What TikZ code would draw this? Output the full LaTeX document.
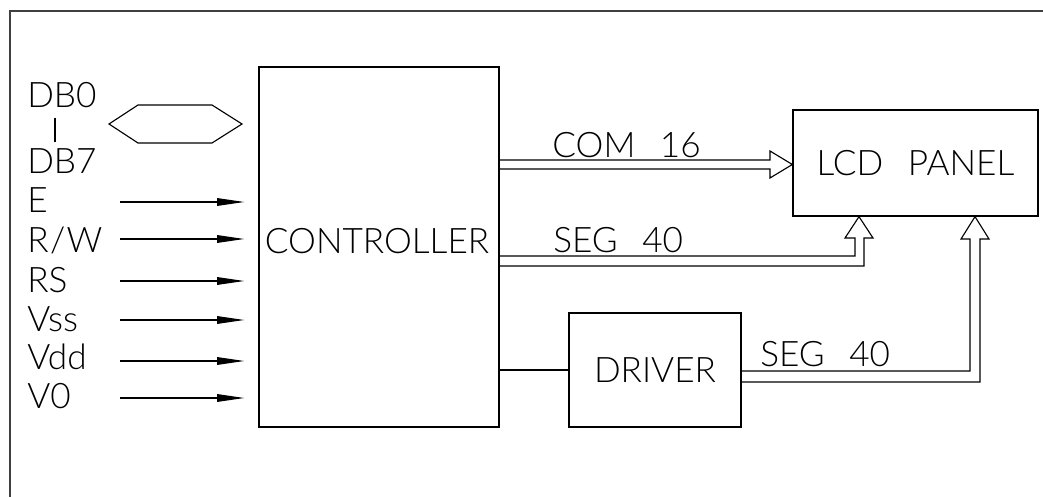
\documentclass[tikz,border=0pt]{standalone}
\usepackage{fontspec}
\setmainfont{Lato Light}
\usepackage{tikz}
\usetikzlibrary{arrows.meta}
\usepackage{xcolor}

\tikzset{
  blk/.style={draw, line width=0.9pt, inner sep=0pt, font=\fontsize{25}{28}\selectfont},
  lbl/.style={inner sep=0pt, font=\fontsize{25}{28}\selectfont},
  sig/.style={line width=0.8pt, -{Triangle[length=0.68cm, width=0.19cm]}, shorten >=0.35cm},
  bus/.style={line width=0.8pt, line join=miter}
}

\begin{document}
\begin{tikzpicture}[x=0.025cm, y=-0.025cm]
      \useasboundingbox (0,0) rectangle (1043,497);
      \draw[line width=0.9pt, black!75] (1043,11) -- (10,11) -- (10,497);
      \node[blk, minimum width=6cm, minimum height=9cm] (ctrl) at (379,247) {};
      \node[lbl] (ctrltxt) at (377,241) {CONTROLLER};
      \node[blk, minimum width=6.125cm, minimum height=2.65cm] (lcd) at (915.5,163)
        {LCD\hspace{0.7em}PANEL};
      \node[blk, minimum width=4.3cm, minimum height=2.85cm] (drv) at (655,370) {DRIVER};
      \node[lbl, anchor=base west] (db0) at (27,108) {DB0};
      \node[lbl, anchor=base west] (db7) at (27,174) {DB7};
      \draw[line width=0.8pt, shorten <=0.225cm, shorten >=0.175cm]
        (55,0 |- db0.south) -- (55,0 |- db7.north);
      \node[lbl, anchor=base west] (e) at (27,213) {E};
      \node[lbl, anchor=base west] (rw) at (27,253) {R\kern1pt/\kern1pt W};
      \node[lbl, anchor=base west] (rs) at (27,292) {RS};
      \node[lbl, anchor=base west] (vss) at (27,331) {Vss};
      \node[lbl, anchor=base west] (vdd) at (27,369) {Vdd};
      \node[lbl, anchor=base west] (vo) at (27,408) {V0};
      \draw[bus] (109,124) -- (138,105) -- (212,105) -- (242,124) -- (212,143) -- (138,143) -- cycle;
      \foreach \n/\y in {e/202, rw/239, rs/281, vss/320, vdd/361, vo/398}{
        \coordinate (\n-in) at (120,\y);
        \draw[sig] (\n-in) -- (ctrl.west |- \n-in);
      }
      \draw[bus] (ctrl.east |- 0,160) -- (770,160) -- (770,151) -- (lcd.west |- 0,164.5)
        -- (770,178) -- (770,169) -- (ctrl.east |- 0,169);
      \draw[bus] (ctrl.east |- 0,256) -- (855,256) -- (855,238) -- (845,238)
        -- (859,0 |- lcd.south) -- (873,238) -- (864,238) -- (864,266) -- (ctrl.east |- 0,266);
      \draw[line width=0.8pt] (ctrl.east |- drv.west) -- (drv.west);
      \draw[bus] (drv.east |- 0,371) -- (970,371) -- (970,239) -- (961,239)
        -- (975,0 |- lcd.south) -- (989,239) -- (980,239) -- (980,382) -- (drv.east |- 0,382);
      \node[lbl, anchor=base west] (com) at (552,158) {COM\hspace{0.7em}16};
      \node[lbl, anchor=base west] (segup) at (553,253) {SEG\hspace{0.7em}40};
      \node[lbl, anchor=base west] (seglow) at (760,366) {SEG\hspace{0.7em}40};
    \end{tikzpicture}
\end{document}
